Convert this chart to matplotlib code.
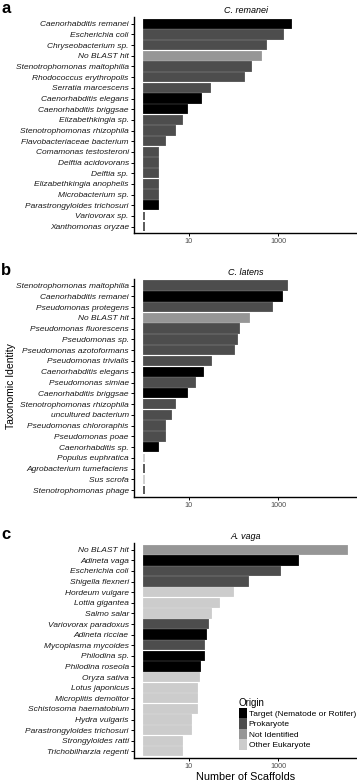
import matplotlib
matplotlib.use("Agg")
import matplotlib.pyplot as plt
from matplotlib.patches import Patch

plt.rcParams['font.family'] = ['Liberation Sans', 'DejaVu Sans']

# origin colours
origin_colors = {
    'Target': '#000000',
    'Prokaryote': '#4d4d4d',
    'Not Identified': '#969696',
    'Other Eukaryote': '#cccccc',
}
legend_labels = ['Target (Nematode or Rotifer)', 'Prokaryote', 'Not Identified', 'Other Eukaryote']

# panel a - C. remanei
names_a = ['Caenorhabditis remanei', 'Escherichia coli', 'Chryseobacterium sp.', 'No BLAST hit',
           'Stenotrophomonas maltophilia', 'Rhodococcus erythropolis', 'Serratia marcescens',
           'Caenorhabditis elegans', 'Caenorhabditis briggsae', 'Elizabethkingia sp.',
           'Stenotrophomonas rhizophila', 'Flavobacteriaceae bacterium', 'Comamonas testosteroni',
           'Delftia acidovorans', 'Delftia sp.', 'Elizabethkingia anophelis', 'Microbacterium sp.',
           'Parastrongyloides trichosuri', 'Variovorax sp.', 'Xanthomonas oryzae']
values_a = [1880, 1290, 520, 417, 244, 174, 29, 19, 9, 7, 5, 3, 2, 2, 2, 2, 2, 2, 1, 1]
origin_a = ['Target', 'Prokaryote', 'Prokaryote', 'Not Identified', 'Prokaryote', 'Prokaryote',
            'Prokaryote', 'Target', 'Target', 'Prokaryote', 'Prokaryote', 'Prokaryote',
            'Prokaryote', 'Prokaryote', 'Prokaryote', 'Prokaryote', 'Prokaryote', 'Target',
            'Prokaryote', 'Prokaryote']

# panel b - C. latens
names_b = ['Stenotrophomonas maltophilia', 'Caenorhabditis remanei', 'Pseudomonas protegens',
           'No BLAST hit', 'Pseudomonas fluorescens', 'Pseudomonas sp.', 'Pseudomonas azotoformans',
           'Pseudomonas trivialis', 'Caenorhabditis elegans', 'Pseudomonas simiae',
           'Caenorhabditis briggsae', 'Stenotrophomonas rhizophila', 'uncultured bacterium',
           'Pseudomonas chlororaphis', 'Pseudomonas poae', 'Caenorhabditis sp.',
           'Populus euphratica', 'Agrobacterium tumefaciens', 'Sus scrofa', 'Stenotrophomonas phage']
values_b = [1550, 1240, 740, 220, 135, 118, 102, 31, 21, 14, 9, 5, 4, 3, 3, 2, 1, 1, 1, 1]
origin_b = ['Prokaryote', 'Target', 'Prokaryote', 'Not Identified', 'Prokaryote', 'Prokaryote',
            'Prokaryote', 'Prokaryote', 'Target', 'Prokaryote', 'Target', 'Prokaryote',
            'Prokaryote', 'Prokaryote', 'Prokaryote', 'Target', 'Other Eukaryote', 'Prokaryote',
            'Other Eukaryote', 'Prokaryote']

# panel c - A. vaga
names_c = ['No BLAST hit', 'Adineta vaga', 'Escherichia coli', 'Shigella flexneri', 'Hordeum vulgare',
           'Lottia gigantea', 'Salmo salar', 'Variovorax paradoxus', 'Adineta ricciae',
           'Mycoplasma mycoides', 'Philodina sp.', 'Philodina roseola', 'Oryza sativa',
           'Lotus japonicus', 'Microplitis demolitor', 'Schistosoma haematobium', 'Hydra vulgaris',
           'Parastrongyloides trichosuri', 'Strongyloides ratti', 'Trichobilharzia regenti']
values_c = [34600, 2790, 1100, 214, 98, 48, 31, 27, 24, 22, 22, 18, 17, 15, 15, 15, 11, 11, 7, 7]
origin_c = ['Not Identified', 'Target', 'Prokaryote', 'Prokaryote', 'Other Eukaryote',
            'Other Eukaryote', 'Other Eukaryote', 'Prokaryote', 'Target', 'Prokaryote', 'Target',
            'Target', 'Other Eukaryote', 'Other Eukaryote', 'Other Eukaryote', 'Other Eukaryote',
            'Other Eukaryote', 'Other Eukaryote', 'Other Eukaryote', 'Other Eukaryote']

titles = ['C. remanei', 'C. latens', 'A. vaga']
letters = ['a', 'b', 'c']

W, H = 357, 781
fig = plt.figure(figsize=(W / 100, H / 100), dpi=100)

# axes boxes in pixels: (top, bottom)
boxes = [(17.4, 233), (279.1, 496.7), (543.4, 757.7)]
left_px = 134
xlim = (10 ** -0.227, 10 ** 4.76)

panels = [(names_a, values_a, origin_a), (names_b, values_b, origin_b), (names_c, values_c, origin_c)]

for i, (names, vals, origins) in enumerate(panels):
    top, bot = boxes[i]
    ax = fig.add_axes([left_px / W, 1 - bot / H, 1 - left_px / W, (bot - top) / H])
    ypos = list(range(len(names)))
    cols = [origin_colors[o] for o in origins]
    widths = [v - 1 for v in vals]
    ax.barh(ypos, widths, left=1, height=0.78, color=cols, edgecolor=cols, linewidth=1.3)
    ax.set_xscale('log')
    ax.set_xlim(*xlim)
    ax.set_ylim(len(names) - 0.4, -0.6)
    ax.set_yticks(ypos)
    ax.set_yticklabels(names, fontsize=6.0, style='italic', color='#1a1a1a')
    ax.set_xticks([10, 1000])
    ax.set_xticklabels(['10', '1000'], fontsize=5.2, color='#4d4d4d')
    ax.minorticks_off()
    ax.tick_params(axis='both', length=2.2, width=0.7, pad=1.5)
    for s in ['top', 'right']:
        ax.spines[s].set_visible(False)
    for s in ['left', 'bottom']:
        ax.spines[s].set_linewidth(1.0)
    ax.set_title(titles[i], fontsize=6.5, style='italic', pad=3)
    fig.text(1 / W, 1 - (top - 9) / H, letters[i], fontsize=12, fontweight='bold',
             ha='left', va='center')
    if i == 2:
        ax.set_xlabel('Number of Scaffolds', fontsize=7.8, labelpad=1.5)
        handles = [Patch(facecolor=origin_colors[k], edgecolor='none') for k in origin_colors]
        leg = ax.legend(handles, legend_labels, loc='upper left',
                        bbox_to_anchor=(233 / W, 1 - 692 / H), bbox_transform=fig.transFigure,
                        frameon=False, fontsize=6.0, title='Origin', title_fontsize=7.0,
                        handlelength=0.95, handleheight=1.55, labelspacing=0.0,
                        handletextpad=0.25, borderpad=0.2, alignment='left')

fig.text(11 / W, 1 - 386 / H, 'Taxonomic Identity', rotation=90, fontsize=7.5,
         ha='center', va='center')

fig.savefig('out.png', dpi=100)
